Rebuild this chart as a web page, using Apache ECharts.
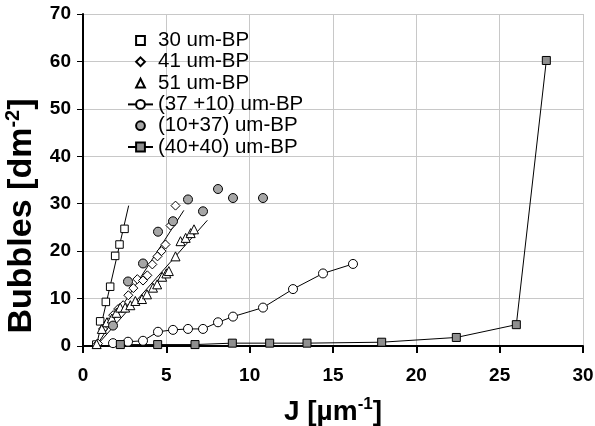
<!DOCTYPE html>
<html>
<head>
<meta charset="utf-8">
<script src="https://cdn.jsdelivr.net/npm/echarts@6/dist/echarts.min.js"></script>
<style>html,body{margin:0;padding:0;background:#fff;}#c{width:595px;height:426px;}</style>
</head>
<body>
<div id="c"></div>
<script>
// ---- data ----
var xTicks = [0, 5, 10, 15, 20, 25, 30];
var yTicks = [0, 10, 20, 30, 40, 50, 60, 70];

var names = ['30 um-BP', '41 um-BP', '51 um-BP', '(37 +10) um-BP', '(10+37) um-BP', '(40+40) um-BP'];

var s30X = [0.8, 1.03, 1.37, 1.63, 1.93, 2.19, 2.49];
var s30Y = [0.3, 5.2, 9.3, 12.5, 19.0, 21.4, 24.7];
var fit30X = [0.8, 2.74];
var fit30Y = [0, 29.6];

var s41X = [0.9, 1.2, 1.51, 1.81, 2.11, 2.41, 2.72, 3.02, 3.26, 3.6, 3.86, 4.16, 4.47, 4.71, 4.95, 5.25, 5.55];
var s41Y = [0.5, 3.6, 5.0, 6.5, 7.8, 8.6, 10.7, 12.2, 14.1, 13.8, 14.9, 17.2, 18.9, 20.0, 21.4, 25.4, 29.6];
var fit41X = [0.8, 6.05];
var fit41Y = [0, 28.6];

var s51X = [0.82, 1.13, 1.43, 1.73, 2.0, 2.23, 2.53, 2.84, 3.14, 3.54, 3.84, 4.2, 4.45, 4.75, 5.0, 5.15, 5.55, 5.85, 6.16, 6.46, 6.66];
var s51Y = [0.4, 3.6, 5.0, 5.8, 7.0, 8.1, 8.1, 8.6, 9.5, 9.9, 10.9, 12.3, 13.0, 14.6, 15.3, 15.8, 18.9, 22.1, 22.8, 23.8, 24.6];
var fit51X = [0.8, 7.46];
var fit51Y = [0, 26.5];

var s3710X = [1.8, 2.7, 3.6, 4.5, 5.4, 6.3, 7.2, 8.1, 9.0, 10.8, 12.6, 14.4, 16.2];
var s3710Y = [0.6, 0.9, 1.1, 3.0, 3.4, 3.6, 3.6, 5.0, 6.2, 8.1, 12.0, 15.3, 17.3];

var s1037X = [1.8, 2.7, 3.6, 4.5, 5.4, 6.3, 7.2, 8.1, 9.0, 10.8];
var s1037Y = [4.3, 13.6, 17.4, 24.1, 26.3, 30.9, 28.4, 33.1, 31.2, 31.2];

var s4040X = [2.24, 4.48, 6.72, 8.96, 11.2, 13.44, 17.92, 22.4, 26.0, 27.8];
var s4040Y = [0.3, 0.3, 0.3, 0.6, 0.6, 0.6, 0.8, 1.8, 4.5, 60.2];

function zip(xs, ys) { return xs.map(function (x, i) { return [x, ys[i]]; }); }

var chart = echarts.init(document.getElementById('c'), null, { renderer: 'canvas' });

function markers(name, xs, ys, symbol, size, fill) {
  return {
    name: name, type: 'line', data: zip(xs, ys), symbol: symbol, symbolSize: size,
    showAllSymbol: true,
    lineStyle: { width: 0, opacity: 0 },
    itemStyle: { color: fill, borderColor: '#000', borderWidth: 1 },
    z: 3
  };
}
function fit(xs, ys) {
  return {
    type: 'line', data: zip(xs, ys), symbol: 'none', silent: true,
    lineStyle: { color: '#000', width: 1 }, z: 2
  };
}
function linked(name, xs, ys, symbol, size, fill) {
  return {
    name: name, type: 'line', data: zip(xs, ys), symbol: symbol, symbolSize: size,
    showAllSymbol: true,
    lineStyle: { color: '#000', width: 1 },
    itemStyle: { color: fill, borderColor: '#000', borderWidth: 1 },
    z: 3
  };
}

var option = {
  animation: false,
  backgroundColor: '#fff',
  grid: { left: 83, right: 12, top: 14, bottom: 80, containLabel: false, outerBoundsMode: 'none' },
  legend: {
    data: names,
    orient: 'vertical',
    left: 127, top: 30, padding: 0,
    itemWidth: 25, itemHeight: 11, itemGap: 0.3,
    textStyle: { fontFamily: 'Liberation Sans, Arial', fontSize: 20.5, lineHeight: 20, color: '#000' },
    inactiveColor: '#000'
  },
  xAxis: {
    type: 'value', min: 0, max: 30, interval: 5,
    name: '{a|J [µm}{s|-1}{a|]}',
    nameLocation: 'middle', nameGap: 50,
    nameTextStyle: {
      rich: {
        a: { fontFamily: 'Liberation Sans, Arial', fontSize: 28, fontWeight: 'bold', color: '#000', lineHeight: 32 },
        s: { fontFamily: 'Liberation Sans, Arial', fontSize: 17, fontWeight: 'bold', color: '#000', verticalAlign: 'top', lineHeight: 18 }
      }
    },
    axisLine: { lineStyle: { color: '#000', width: 2 } },
    axisTick: { show: true, length: 7, lineStyle: { color: '#000', width: 2 } },
    axisLabel: {
      margin: 20, fontFamily: 'Liberation Sans, Arial', fontSize: 19, fontWeight: 'bold', color: '#000',
      formatter: function (v) { return xTicks.indexOf(v) >= 0 ? String(v) : ''; }
    },
    splitLine: { show: true, lineStyle: { color: '#c8c8c8', width: 1 } }
  },
  yAxis: {
    type: 'value', min: 0, max: 70, interval: 10,
    name: '{a|Bubbles [dm}{s|-2}{a|]}',
    nameLocation: 'middle', nameGap: 41, nameRotate: 90,
    nameTextStyle: {
      padding: [0, 72, 0, 0],
      rich: {
        a: { fontFamily: 'Liberation Sans, Arial', fontSize: 34, fontWeight: 'bold', color: '#000', lineHeight: 36 },
        s: { fontFamily: 'Liberation Sans, Arial', fontSize: 20, fontWeight: 'bold', color: '#000', verticalAlign: 'top', lineHeight: 21 }
      }
    },
    axisLine: { show: true, lineStyle: { color: '#000', width: 2 } },
    axisTick: { show: true, length: 6, lineStyle: { color: '#000', width: 1 } },
    axisLabel: {
      margin: 12, fontFamily: 'Liberation Sans, Arial', fontSize: 19, fontWeight: 'bold', color: '#000',
      formatter: function (v) { return yTicks.indexOf(v) >= 0 ? String(v) : ''; }
    },
    splitLine: { show: true, lineStyle: { color: '#c8c8c8', width: 1 } }
  },
  series: [
    fit(fit30X, fit30Y),
    fit(fit41X, fit41Y),
    fit(fit51X, fit51Y),
    markers(names[0], s30X, s30Y, 'rect', 7.5, '#fff'),
    markers(names[1], s41X, s41Y, 'diamond', 9, '#fff'),
    markers(names[2], s51X, s51Y, 'triangle', 9, '#fff'),
    linked(names[3], s3710X, s3710Y, 'circle', 9, '#fff'),
    markers(names[4], s1037X, s1037Y, 'circle', 9, '#a6a6a6'),
    linked(names[5], s4040X, s4040Y, 'rect', 8, '#8f8f8f')
  ]
};
chart.setOption(option);
</script>
</body>
</html>
